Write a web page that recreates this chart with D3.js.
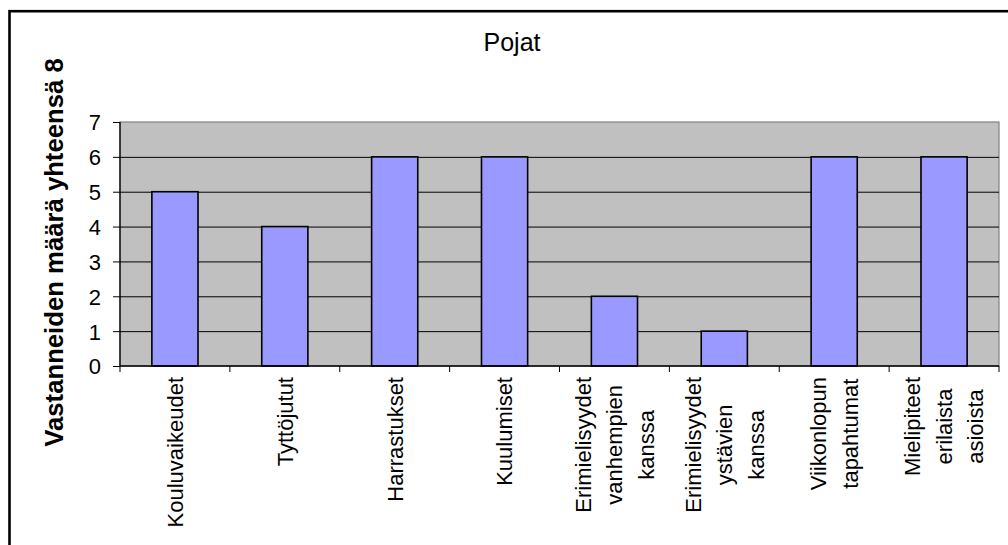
<!DOCTYPE html>
<html>
<head>
<meta charset="utf-8">
<script src="https://cdn.jsdelivr.net/npm/d3@7"></script>
<style>
  html, body { margin: 0; padding: 0; background: #ffffff; }
  svg { display: block; }
  text { font-family: "Liberation Sans", Arial, sans-serif; fill: #000; }
</style>
</head>
<body>
<svg id="chart" width="1008" height="545"></svg>
<script>
// ---- data ----
const categories = [
  ["Kouluvaikeudet"],
  ["Tyttöjutut"],
  ["Harrastukset"],
  ["Kuulumiset"],
  ["Erimielisyydet", "vanhempien", "kanssa"],
  ["Erimielisyydet", "ystävien", "kanssa"],
  ["Viikonlopun", "tapahtumat"],
  ["Mielipiteet", "erilaista", "asioista"]
];
const values = [5, 4, 6, 6, 2, 1, 6, 6];
const yTicks = [0, 1, 2, 3, 4, 5, 6, 7];
const title = "Pojat";
const yTitle = "Vastanneiden määrä yhteensä 8";

// ---- layout ----
const svg = d3.select("#chart");
const plot = { left: 120, right: 999, top: 122, bottom: 366 };

const keys = categories.map((c, i) => i);
const x = d3.scaleBand().domain(keys).range([plot.left, plot.right]).padding(0);
const y = d3.scaleLinear().domain([0, 7]).range([plot.bottom, plot.top]);
const barW = x.bandwidth() * 0.42;

// outer frame
svg.append("rect")
  .attr("x", 9.5).attr("y", 11.2)
  .attr("width", 1100).attr("height", 600)
  .attr("fill", "none").attr("stroke", "#000").attr("stroke-width", 2.6);

// plot background
svg.append("rect")
  .attr("x", plot.left).attr("y", plot.top)
  .attr("width", plot.right - plot.left).attr("height", plot.bottom - plot.top)
  .attr("fill", "#C0C0C0").attr("stroke", "#808080").attr("stroke-width", 1.2);

// gridlines
svg.append("g").selectAll("line").data(yTicks.filter(t => t > 0 && t < 7)).join("line")
  .attr("x1", plot.left).attr("x2", plot.right)
  .attr("y1", d => y(d) + 0.5).attr("y2", d => y(d) + 0.5)
  .attr("stroke", "#000").attr("stroke-width", 1);

// bars
svg.append("g").selectAll("rect").data(values).join("rect")
  .attr("x", (d, i) => x(i) + x.bandwidth() / 2 - barW / 2)
  .attr("y", d => y(d))
  .attr("width", barW)
  .attr("height", d => plot.bottom - y(d))
  .attr("fill", "#9999FF").attr("stroke", "#000").attr("stroke-width", 1.6);

// y axis
const yAxis = d3.axisLeft(y).tickValues(yTicks).tickSize(7).tickPadding(12).tickFormat(d3.format("d"));
const gy = svg.append("g").attr("transform", `translate(${plot.left},0)`).call(yAxis);
gy.select(".domain").attr("stroke", "#000").attr("stroke-width", 1.3).attr("d", `M0,${plot.top}V${plot.bottom}`);
gy.selectAll(".tick line").attr("stroke", "#000").attr("stroke-width", 1);
gy.selectAll(".tick text")
  .style("font-family", "'Liberation Sans', Arial, sans-serif")
  .style("font-size", "22px").attr("fill", "#000").attr("dy", "0.36em");

// x axis line and ticks at category boundaries
const boundaries = keys.map(i => x(i)).concat([plot.right]);
svg.append("line")
  .attr("x1", plot.left).attr("x2", plot.right)
  .attr("y1", plot.bottom).attr("y2", plot.bottom)
  .attr("stroke", "#000").attr("stroke-width", 1.3);
svg.append("g").selectAll("line").data(boundaries).join("line")
  .attr("x1", d => d).attr("x2", d => d)
  .attr("y1", plot.bottom).attr("y2", plot.bottom + 6)
  .attr("stroke", "#000").attr("stroke-width", 1);

// category labels (rotated, multi-line, centered lines)
const lineGap = 31.5;
const labelTop = plot.bottom + 11;
categories.forEach((lines, i) => {
  const cx = x(i) + x.bandwidth() / 2;
  const g = svg.append("g").attr("transform", `translate(${cx},${labelTop}) rotate(-90)`);
  const texts = g.selectAll("text").data(lines).join("text")
    .style("font-size", "22px")
    .text(d => d);
  let maxLen = 0;
  texts.each(function () { maxLen = Math.max(maxLen, this.getComputedTextLength()); });
  const n = lines.length;
  texts
    .attr("text-anchor", "middle")
    .attr("x", -maxLen / 2)
    .attr("y", (d, k) => (k - (n - 1) / 2) * lineGap)
    .attr("dy", "0.36em");
});

// title
svg.append("text")
  .attr("x", 512).attr("y", 51)
  .attr("text-anchor", "middle")
  .style("font-size", "25px")
  .text(title);

// y axis title
svg.append("text")
  .attr("transform", "translate(63,252.5) rotate(-90)")
  .attr("text-anchor", "middle")
  .style("font-size", "25.7px").style("font-weight", "bold")
  .text(yTitle);
</script>
</body>
</html>
